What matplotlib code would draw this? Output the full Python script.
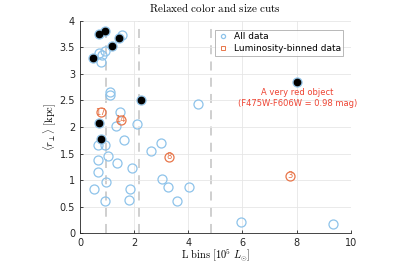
import matplotlib
matplotlib.use("Agg")
import matplotlib.pyplot as plt

plt.rcParams['mathtext.fontset'] = 'cm'

# All data (open blue circles)
all_x = [0.70, 0.94, 1.43, 1.54, 1.19, 0.47, 0.70, 0.94, 0.80, 0.79, 1.11, 1.12,
         2.25, 4.37, 1.48, 0.71, 1.32, 2.09, 0.76, 0.65, 0.92, 1.64, 2.98, 2.61,
         1.02, 0.67, 1.38, 1.91, 0.65, 3.02, 0.96, 0.50, 1.83, 3.24, 4.03, 0.94,
         1.80, 3.58, 5.94, 9.33, 8.03]
all_y = [3.76, 3.81, 3.68, 3.74, 3.52, 3.29, 3.40, 3.44, 3.35, 3.22, 2.66, 2.60,
         2.51, 2.43, 2.28, 2.08, 2.02, 2.06, 1.77, 1.67, 1.67, 1.75, 1.69, 1.54,
         1.45, 1.37, 1.33, 1.22, 1.16, 1.02, 0.96, 0.83, 0.83, 0.87, 0.87, 0.61,
         0.63, 0.60, 0.22, 0.17, 2.85]

# Highlighted objects (filled black)
sel_x = [0.70, 0.94, 1.43, 1.19, 0.47, 2.25, 0.71, 0.76, 8.03]
sel_y = [3.76, 3.81, 3.68, 3.52, 3.29, 2.51, 2.08, 1.77, 2.85]

# Luminosity-binned data
bin_x = [0.76, 1.50, 3.28, 7.76]
bin_y = [2.28, 2.14, 1.44, 1.08]
bin_n = ['17', '14', '8', '3']

# Bin edges
edges = [0.96, 2.17, 4.84]

blue = '#8ec3ea'
orange = '#e8764a'

fig = plt.figure(figsize=(4.19, 2.66), dpi=100)
ax = fig.add_axes([0.191, 0.123, 0.646, 0.799])

ax.grid(True, color='#e6e6e6', linewidth=0.6, zorder=0)
for e in edges:
    ax.axvline(e, color='#cccccc', linestyle=(0, (5, 4)), linewidth=1.3, zorder=1)

ax.plot(all_x, all_y, 'o', mfc='none', mec=blue, ms=6.5, mew=0.9, zorder=3, label='All data')
ax.plot(sel_x, sel_y, 'o', mfc='black', mec='black', ms=4.6, zorder=4)
ax.plot(bin_x, bin_y, 'o', mfc='none', mec=orange, ms=6.5, mew=0.9, zorder=5)
for x, y, n in zip(bin_x, bin_y, bin_n):
    ax.text(x, y, n, color=orange, ha='center', va='center', fontsize=6, zorder=6)
ax.plot([], [], 's', mfc='none', mec=orange, ms=3, mew=0.7, label='Luminosity-binned data')

ax.text(8.03, 2.65, 'A very red object', color='#ee4433', ha='center', va='center', fontsize=6)
ax.text(8.03, 2.45, '(F475W-F606W = 0.98 mag)', color='#ee4433', ha='center', va='center', fontsize=6)

ax.set_xlim(0, 10)
ax.set_ylim(0, 4)
ax.set_xticks([0, 2, 4, 6, 8, 10])
ax.set_yticks([0, 0.5, 1, 1.5, 2, 2.5, 3, 3.5, 4])
ax.set_yticklabels(['0', '0.5', '1', '1.5', '2', '2.5', '3', '3.5', '4'])
ax.tick_params(direction='in', labelsize=7, length=2.5, width=0.6, colors='#262626')
for s in ['top', 'right']:
    ax.spines[s].set_visible(False)
for s in ['left', 'bottom']:
    ax.spines[s].set_color('#262626')
    ax.spines[s].set_linewidth(0.6)

ax.set_title(r'$\mathrm{Relaxed\ color\ and\ size\ cuts}$', fontsize=8, pad=6)
ax.set_xlabel(r'$\mathrm{L\ bins}\ [10^5\ L_{\odot}]$', fontsize=7.5, labelpad=0)
ax.set_ylabel(r'$\langle r_{\perp}\rangle\ \mathrm{[kpc]}$', fontsize=7.5, labelpad=1)

leg = ax.legend(loc='upper right', fontsize=6.5, frameon=True, fancybox=False,
                edgecolor='#999999', handletextpad=0.6, borderpad=0.3,
                labelspacing=0.3, handlelength=1.2, bbox_to_anchor=(0.99, 0.98))
leg.get_frame().set_linewidth(0.6)
leg.legend_handles[0].set_markersize(3)

fig.savefig('out.png', dpi=100)
